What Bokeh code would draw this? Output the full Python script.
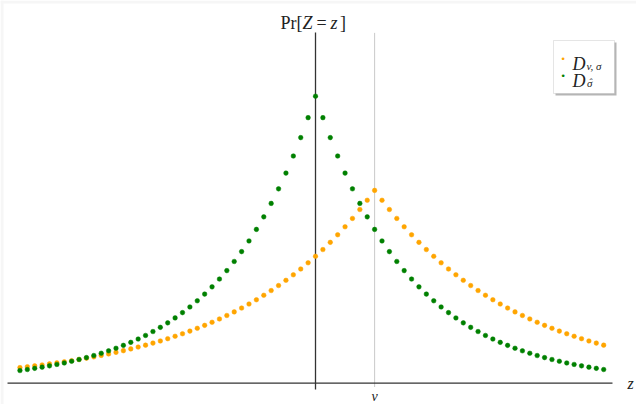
from bokeh.plotting import figure
from bokeh.models import Range1d, Label, BoxAnnotation
from bokeh.embed import file_html
from bokeh.resources import INLINE

# ---- data (Pr[Z=z] x 10^4) ----
z_values = list(range(-40, 40))
v_position = 8

pr_D_v_sigma = [21.2, 22.4, 23.6, 24.8, 26.2, 27.6, 29.1, 30.6, 32.3, 34.0,
                35.8, 37.8, 39.8, 41.9, 44.2, 46.6, 49.1, 51.7, 54.5, 57.4,
                60.5, 63.8, 67.2, 70.8, 74.6, 78.6, 82.8, 87.3, 92.0, 96.9,
                102.1, 107.6, 113.4, 119.5, 125.9, 132.7, 139.8, 147.3, 155.2, 163.6,
                172.4, 181.6, 191.4, 201.7, 212.5, 223.9, 236.0, 248.6, 262.0,
                248.6, 236.0, 223.9, 212.5, 201.7, 191.4, 181.6, 172.4, 163.6, 155.2,
                147.3, 139.8, 132.7, 125.9, 119.5, 113.4, 107.6, 102.1, 96.9, 92.0,
                87.3, 82.8, 78.6, 74.6, 70.8, 67.2, 63.8, 60.5, 57.4, 54.5, 51.7]

pr_D_sigma_hat = [17.2, 18.6, 20.2, 21.8, 23.6, 25.5, 27.5, 29.8, 32.2, 34.8,
                  37.6, 40.7, 44.0, 47.5, 51.4, 55.5, 60.0, 64.9, 70.2, 75.9,
                  82.0, 88.7, 95.9, 103.6, 112.0, 121.1, 130.9, 141.5, 153.0, 165.4,
                  178.8, 193.3, 209.0, 226.0, 244.3, 264.1, 285.5, 308.7, 333.7, 360.8,
                  390.0,
                  360.8, 333.7, 308.7, 285.5, 264.1, 244.3, 226.0, 209.0, 193.3, 178.8,
                  165.4, 153.0, 141.5, 130.9, 121.1, 112.0, 103.6, 95.9, 88.7, 82.0,
                  75.9, 70.2, 64.9, 60.0, 55.5, 51.4, 47.5, 44.0, 40.7, 37.6,
                  34.8, 32.2, 29.8, 27.5, 25.5, 23.6, 21.8, 20.2, 18.6]

ORANGE = "#FFA500"
GREEN = "#008000"
AXIS = "#333333"
SERIF = "Liberation Serif"

W, H = 636, 404

p = figure(width=W, height=H,
           x_range=Range1d(-42.63, 43.44), y_range=Range1d(-28.94, 520.0),
           output_backend="svg", toolbar_location=None, min_border=0,
           x_axis_type=None, y_axis_type=None, outline_line_color=None)
p.xgrid.visible = False
p.ygrid.visible = False


def sbox(left, right, bottom, top, **kw):
    p.add_layout(BoxAnnotation(left=left, right=right, bottom=bottom, top=top,
                               left_units="screen", right_units="screen",
                               bottom_units="screen", top_units="screen", **kw))


# faint page edge bands
sbox(0, W, H - 3, H, fill_color="#f6f6f6", fill_alpha=1.0, line_color=None, level="underlay")
sbox(0, 3, 0, H, fill_color="#f6f6f6", fill_alpha=1.0, line_color=None, level="underlay")

# dotted line at v
p.segment(x0=[v_position], y0=[-4.5], x1=[v_position], y1=[476.6],
          line_color="#777777", line_dash="1 1", line_width=0.8)
# axes
p.segment(x0=[-41.68], y0=[0], x1=[40.19], y1=[0], line_color=AXIS, line_width=1.3)
p.segment(x0=[0], y0=[-8.6], x1=[0], y1=[476.6], line_color=AXIS, line_width=1.3)

# series
p.scatter(z_values, pr_D_v_sigma, size=4.6, fill_color=ORANGE, line_color=ORANGE, line_width=0.5)
p.scatter(z_values, pr_D_sigma_hat, size=4.6, fill_color=GREEN, line_color=GREEN, line_width=0.5)


def lab(x, y, text, size, italic=True, align="left", color="#222222",
        baseline="alphabetic", font=SERIF):
    p.add_layout(Label(x=x, y=y, x_units="screen", y_units="screen", text=text,
                       text_font=font, text_font_size=size,
                       text_font_style="italic" if italic else "normal",
                       text_align=align, text_baseline=baseline, text_color=color))


# y-axis label  Pr[Z = z]
TY = 381.5
lab(280, TY, "Pr", "18px", italic=False)
lab(296, TY, "[", "18px", italic=False)
lab(302, TY, "Z", "18px")
lab(316, TY, "=", "18px", italic=False)
lab(330, TY, "z", "18px")
lab(339.5, TY, "]", "18px", italic=False)

# x-axis label and tick label
lab(627, 21, "z", "16px")
lab(374, 8, "v", "14px", align="center")

# legend
sbox(555, 616, 309, 362, fill_color="#b5b5b5", fill_alpha=1.0, line_color=None)
sbox(553, 614, 311, 364, fill_color="white", fill_alpha=1.0, line_color="#a8a8a8", line_width=1)
lab(562.7, 346, "\u2022", "9px", italic=False, align="center", color=ORANGE,
    baseline="middle", font="DejaVu Sans")
lab(562.7, 329, "\u2022", "9px", italic=False, align="center", color=GREEN,
    baseline="middle", font="DejaVu Sans")
lab(572, 341, "D", "18px")
lab(586, 338.5, "v, \u03c3", "11px")
lab(572, 323.5, "D", "18px")
lab(586.5, 321.5, "\u03c3", "11px")
lab(590, 322, "\u02c6", "10px", align="center")

open("out.html", "w").write(file_html(p, INLINE))
